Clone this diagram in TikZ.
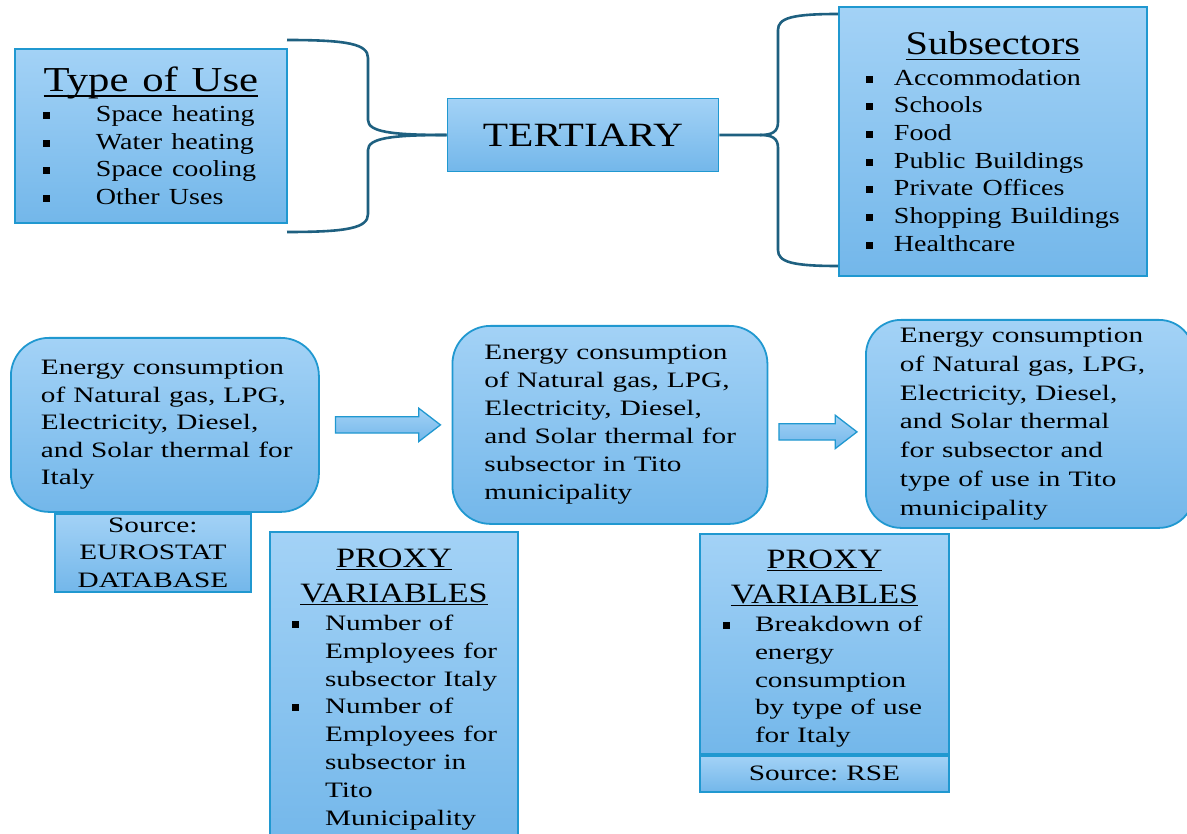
\documentclass[tikz,border=0pt]{standalone}
\usepackage{fontspec}
\setmainfont{Liberation Serif}[FakeStretch=1.22,WordSpace=1.3]
\newfontfamily\flowfont{Liberation Serif}[FakeStretch=1.33,WordSpace=1.1]
\frenchspacing
\usetikzlibrary{positioning,shapes.arrows}
\definecolor{boxtop}{RGB}{163,210,246}
\definecolor{boxbot}{RGB}{115,183,234}
\definecolor{boxline}{RGB}{32,152,208}
\definecolor{bracecol}{RGB}{30,96,128}
% size and line skip, with the font's own word space
\newcommand{\setfs}[2]{\fontsize{#1}{#2}\selectfont\spaceskip=0pt\xspaceskip=0pt\relax}
% bullet square: indent, then box holding the square
\newcommand{\bsq}[2]{\hspace*{#1}\makebox[#2][l]{\rule[2.5pt]{7pt}{7pt}}}
% heading with a rule under it
\newcommand{\hdline}[2][3pt]{\setbox0=\hbox{#2}\rlap{\rule[-#1]{\wd0}{1.3pt}}\box0}

\begin{document}
\begin{tikzpicture}[x=1pt, y=-1pt,
    box/.style={draw=boxline, line width=1.8pt, top color=boxtop, bottom color=boxbot, inner sep=0pt},
    rbox/.style={box, rounded corners=38pt},
    flow/.style={align=left, inner xsep=8pt, inner ysep=0pt},
    blockarrow/.style={single arrow, draw=boxline, line width=1.3pt, top color=boxtop, bottom color=boxbot,
        inner sep=0pt, inner ysep=7.5pt, single arrow head extend=8.5pt, single arrow tip angle=75, minimum width=0pt},
    brace/.style={draw=bracecol, line width=2.6pt}]
    \fill[white] (0,0) rectangle (1187,834);
    \useasboundingbox (0,0) rectangle (1187,834);

    % top row
    \node (use) [box, flow, anchor=north west, minimum width=272pt, minimum height=174pt, text width=256pt] at (14,48)
        {\setfs{23}{27.7}%
         \makebox[\linewidth]{\setfs{35}{40}\hdline[5pt]{Type of Use}}\\[2.3pt]
         \bsq{20pt}{53pt}Space heating\\
         \bsq{20pt}{53pt}Water heating\\
         \bsq{20pt}{53pt}Space cooling\\
         \bsq{20pt}{53pt}Other Uses\par};
    \node (tert) [box, minimum width=271pt, minimum height=73pt, font=\fontsize{34}{36}\selectfont] at (583,135) {TERTIARY};
    \node (sub) [box, flow, anchor=north west, minimum width=308pt, minimum height=269pt, text width=292pt] at (838,6)
        {\setfs{23}{27.7}%
         \makebox[\linewidth]{\setfs{33}{38}\hdline[6pt]{Subsectors}}\\[3.3pt]
         \bsq{19pt}{28pt}Accommodation\\
         \bsq{19pt}{28pt}Schools\\
         \bsq{19pt}{28pt}Food\\
         \bsq{19pt}{28pt}Public Buildings\\
         \bsq{19pt}{28pt}Private Offices\\
         \bsq{19pt}{28pt}Shopping Buildings\\
         \bsq{19pt}{28pt}Healthcare\par};

    \coordinate (bu1) at (287,40);
    \coordinate (bu2) at (287,232);
    \coordinate (bt2) at (760,135);
    \coordinate (bs1) at (838,14);
    \coordinate (bs2) at (838,266);
    \draw[brace] (bu1) .. controls (348,40) and (368,44) .. (368,58) -- (368,120) .. controls (368,132) and (392,135) .. (tert.west);
    \draw[brace] (tert.west) .. controls (392,135) and (368,138) .. (368,150) -- (368,214) .. controls (368,228) and (348,232) .. (bu2);
    \draw[brace] (tert.east) -- (bt2) .. controls (772,135) and (778,132) .. (778,122) -- (778,30) .. controls (778,18) and (792,14) .. (bs1);
    \draw[brace] (bt2) .. controls (772,135) and (778,138) .. (778,148) -- (778,250) .. controls (778,262) and (792,266) .. (bs2);

    % bottom row
    \node (itl) [rbox, flow, anchor=north west, minimum width=308pt, minimum height=174pt, text width=292pt] at (10,337)
        {\flowfont\setfs{22}{27.5}\leftskip=22pt
         Energy consumption\\ of Natural gas, LPG,\\ Electricity, Diesel,\\ and Solar thermal for\\ Italy\par};
    \node (src) [box, below=0pt of itl, xshift=-12pt, minimum width=196pt, minimum height=78pt, text width=180pt, align=center, inner xsep=8pt]
        {\flowfont\setfs{22}{27.5}%
         Source:\\ EUROSTAT\\ DATABASE\par};
    \node (arr1) [blockarrow, right=15pt of itl, minimum height=105pt] {};
    \node (tito) [rbox, flow, right=10pt of arr1, minimum width=315pt, minimum height=198pt, text width=299pt]
        {\flowfont\setfs{22}{28}\leftskip=24pt
         Energy consumption\\ of Natural gas, LPG,\\ Electricity, Diesel,\\ and Solar thermal for\\ subsector in Tito\\ municipality\par};
    \node (arr2) [blockarrow, right=10pt of tito, yshift=-7pt, minimum height=78pt] {};
    \node (tituse) [rbox, flow, rounded corners=35pt, right=7pt of arr2, yshift=8pt, minimum width=328pt, minimum height=208pt, text width=312pt]
        {\flowfont\setfs{22}{28.8}\leftskip=26pt
         Energy consumption\\ of Natural gas, LPG,\\ Electricity, Diesel,\\ and Solar thermal\\ for subsector and\\ type of use in Tito\\ municipality\par};

    \node (proxya) [box, flow, anchor=north, minimum width=248pt, text width=232pt, inner ysep=17pt] at (394,531)
        {\flowfont\setfs{22}{27.8}%
         \makebox[\linewidth]{\rmfamily\setfs{28}{33}\hdline[3pt]{PROXY}}\\[7.2pt]
         \makebox[\linewidth]{\rmfamily\setfs{28}{33}\hdline[2.5pt]{VARIABLES}}\\[0.2pt]
         \bsq{14pt}{33pt}Number of\\
         \hspace*{47pt}Employees for\\
         \hspace*{47pt}subsector Italy\\
         \bsq{14pt}{33pt}Number of\\
         \hspace*{47pt}Employees for\\
         \hspace*{47pt}subsector in\\
         \hspace*{47pt}Tito\\
         \hspace*{47pt}Municipality\par};
    \node (proxyb) [box, flow, anchor=north, minimum width=249pt, minimum height=220pt, text width=233pt] at (824.5,533)
        {\flowfont\setfs{22}{27.8}%
         \makebox[\linewidth]{\rmfamily\setfs{28}{33}\rule{0pt}{28pt}\hdline[3pt]{PROXY}}\\[7.2pt]
         \makebox[\linewidth]{\rmfamily\setfs{28}{33}\hdline[2.5pt]{VARIABLES}}\\[0.2pt]
         \bsq{15pt}{32pt}Breakdown of\\
         \hspace*{47pt}energy\\
         \hspace*{47pt}consumption\\
         \hspace*{47pt}by type of use\\
         \hspace*{47pt}for Italy\par};
    \node (rse) [box, below=0pt of proxyb, minimum width=249pt, minimum height=36pt, font=\flowfont\fontsize{22}{26}\selectfont] {Source: RSE};
\end{tikzpicture}
\end{document}
